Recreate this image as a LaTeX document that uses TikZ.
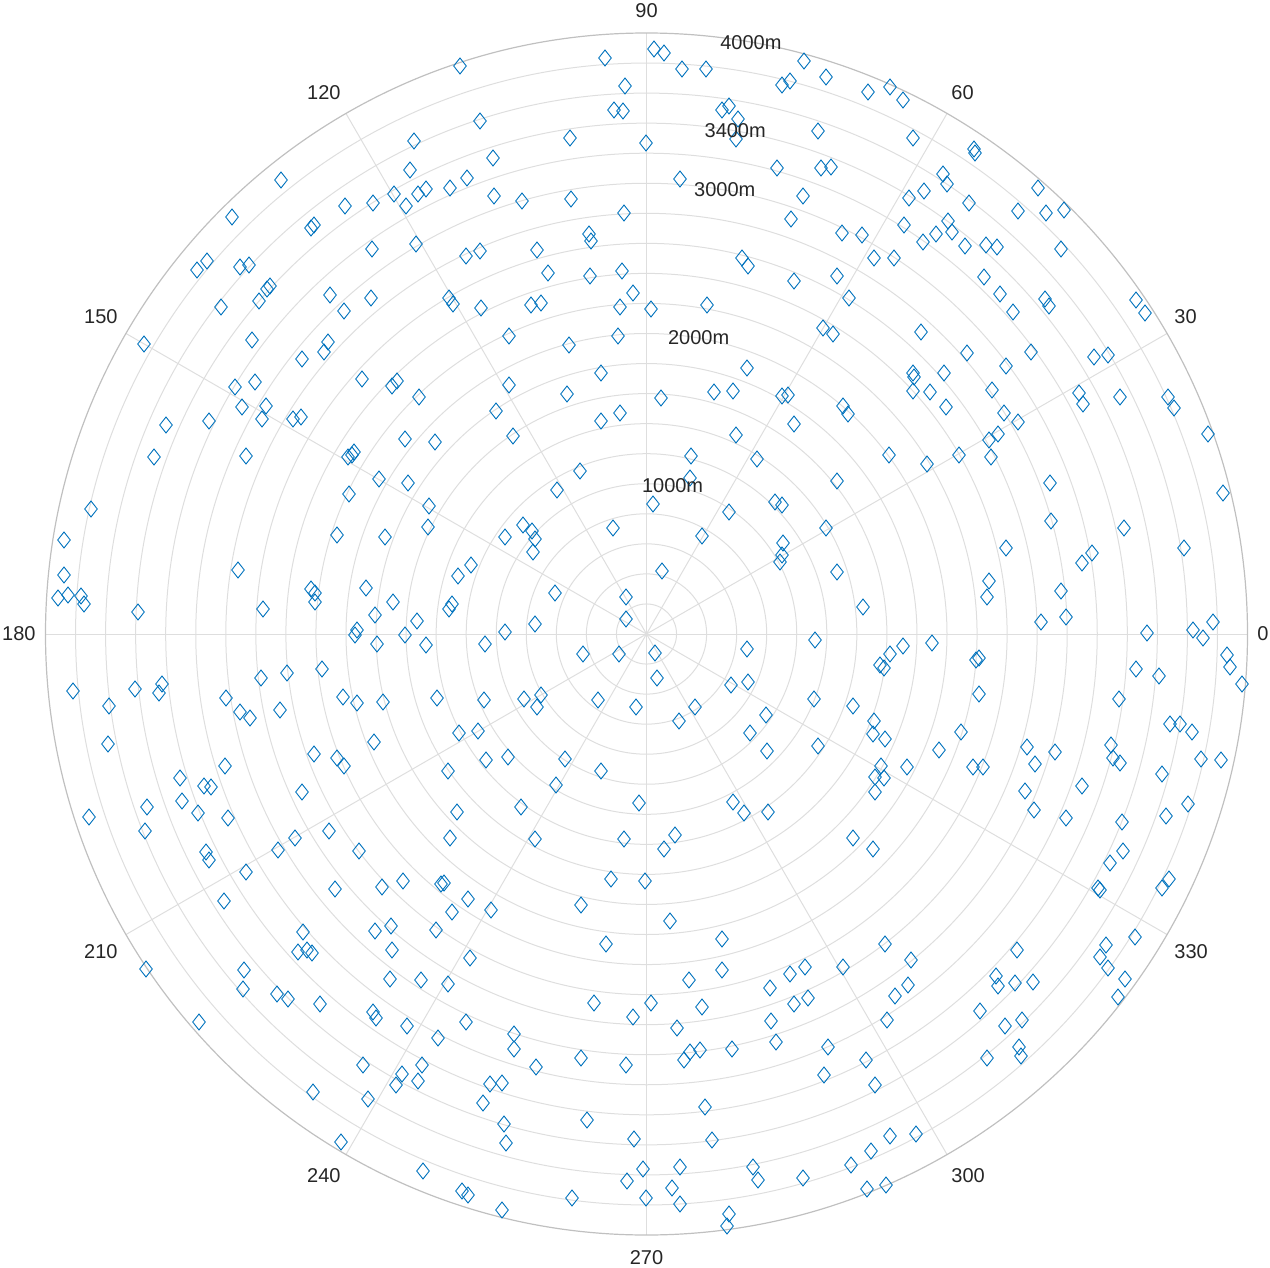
\documentclass[tikz,border=0pt]{standalone}
\usepackage{fontspec}
\setmainfont{Liberation Sans}
\definecolor{gridc}{RGB}{222,222,222}
\definecolor{axc}{RGB}{192,192,192}
\definecolor{mk}{RGB}{0,114,189}
\definecolor{txt}{RGB}{38,38,38}
\begin{document}
\begin{tikzpicture}[x=0.5pt,y=-0.5pt,
  gridline/.style={draw=gridc,line width=0.5pt},
  axline/.style={draw=axc,line width=0.6pt},
  lbl/.style={text=txt,font=\fontsize{10pt}{12pt}\selectfont,inner sep=0pt},
  mkline/.style={draw=mk,line width=0.45pt,line join=miter}]
\useasboundingbox (0,0) rectangle (1270,1268);
\coordinate (O) at (646.5,634);
% grid circles
\foreach \k in {1,...,19} \draw[gridline] (O) circle[radius=\k*30.05];
% spokes
\foreach \a in {0,30,...,330} \draw[gridline] (O) -- ++(-\a:601);
% outer circle
\draw[axline] (O) circle[radius=601];
% markers
\foreach \x/\y in {414/141, 410/170, 281/180, 394/194, 418/194, 345/206, 373/203, 406/206, 232/217, 311/228, 314/225, 416/244, 372/249, 207/261, 197/270, 240/267, 249/265, 270/286, 267/289, 259/301, 221/307, 330/295, 371/298, 344/311, 144/344, 252/340, 328/342, 324/352, 302/359, 362/379, 392/386, 397/381, 235/387, 255/382, 419/397,
460/66, 605/58, 654/49, 664/53, 682/69, 706/69, 804/61, 826/77, 782/85, 790/81, 625/86, 614/110, 623/111, 722/110, 729/106, 738/119, 736/139, 818/131, 480/121, 570/138, 646/143, 493/158, 426/189, 450/188, 467/178, 494/196, 522/201, 571/199, 680/179, 777/168, 821/168, 831/167, 803/196, 624/213, 791/219, 842/233, 589/234, 591/241, 466/256, 480/251, 537/250, 548/273, 590/276, 622/271, 742/258, 748/266, 794/281, 837/276, 449/298, 453/304, 481/308, 531/305, 541/303, 633/293, 620/307, 651/309, 707/305, 509/336, 569/345, 618/336, 823/328, 833/334, 747/368, 601/373, 509/385, 567/394, 661/398, 714/392, 733/391, 782/396, 788/395,
868/92, 890/87, 903/100, 913/138, 974/149, 975/153, 943/174, 947/184, 909/198, 924/191, 969/203, 1038/188, 1018/211, 1046/213, 1064/210, 904/225, 948/221, 952/232, 936/234, 923/242, 965/246, 986/245, 997/247, 1061/249, 862/235, 874/258, 894/258, 984/277, 1000/294, 1013/312, 1045/299, 1049/306, 1136/300, 1145/313, 849/298, 921/332, 967/353, 1006/366, 1031/352, 1094/357, 1108/355, 913/373, 914/377, 944/373, 913/391, 930/392, 992/390, 1079/393, 1083/404, 1120/397, 1168/397, 1174/408,
242/407, 266/406, 262/419, 209/421, 166/425, 293/419, 301/417, 405/439, 348/457, 352/455, 354/452, 246/456, 154/457, 379/479, 408/483, 349/494, 91/509, 337/535, 385/537, 64/540, 238/570, 64/575, 366/588, 311/589, 315/593, 315/602, 393/602, 58/598, 68/595, 81/596, 84/604, 138/612, 263/609, 375/615, 417/621, 357/630, 355/635, 405/635, 377/644, 322/669, 261/678, 287/673, 73/691, 135/689, 162/684, 159/693, 109/706, 226/698, 240/712, 250/718, 280/710, 343/697, 357/703, 383/702, 108/744, 374/742, 314/754, 337/758, 344/766, 225/766, 180/778, 204/786, 211/787, 302/792, 182/801, 147/807, 198/813,
496/411, 601/421, 620/413, 843/406, 848/414, 435/442, 513/436, 736/435, 794/424, 691/456, 757/459, 580/471, 557/490, 837/481, 690/478, 653/504, 729/512, 775/502, 782/505, 429/506, 428/527, 523/525, 532/531, 535/539, 505/537, 533/552, 613/528, 702/536, 826/528, 783/543, 782/555, 780/562, 471/565, 458/576, 662/571, 837/572, 555/593, 626/597, 452/604, 449/609, 626/619, 535/624, 505/632, 426/645, 485/644, 815/640, 583/654, 619/654, 655/653, 747/649, 657/678, 731/685, 748/682, 437/698, 484/700, 524/699, 541/695, 537/707, 598/700, 636/707, 695/707, 679/721, 814/699, 766/715, 750/733, 818/746, 767/751, 459/733, 478/731, 486/760, 508/757, 565/759, 448/771, 601/771, 556/785, 639/803, 733/802, 744/813, 768/812, 457/812, 521/807,
946/407, 1004/413, 1018/422, 1208/434, 889/455, 927/464, 959/455, 989/440, 998/434, 991/457, 1050/483, 1223/493, 1051/521, 1124/528, 1006/548, 1184/548, 1082/563, 1092/553, 989/581, 987/597, 1061/591, 863/607, 1041/622, 1066/617, 1147/633, 1193/630, 1203/638, 1213/622, 903/646, 932/643, 890/654, 880/665, 884/668, 976/660, 979/658, 1227/655, 1230/667, 1242/684, 1136/669, 1159/676, 979/694, 1119/699, 853/706, 874/721, 873/734, 885/739, 961/732, 939/750, 1170/724, 1180/724, 1192/732, 1027/747, 1035/764, 1055/752, 1111/745, 1113/758, 1120/763, 1201/759, 1221/760, 907/767, 881/766, 875/777, 884/778, 875/792, 973/767, 983/767, 1162/774, 1025/791, 1082/786, 1034/810, 1188/804,
89/817, 228/818, 145/831, 206/852, 209/860, 278/850, 295/838, 329/831, 359/851, 246/872, 224/901, 335/889, 382/887, 403/881, 303/932, 375/931, 391/926, 298/952, 307/950, 312/953, 392/950, 146/969, 244/970, 243/989, 277/994, 288/999, 320/1004, 373/1012, 376/1018, 390/979, 421/980, 407/1026, 199/1022, 363/1065, 422/1065, 402/1074, 396/1085, 418/1081, 313/1092, 368/1099, 341/1142, 423/1171,
450/838, 535/839, 624/839, 675/835, 664/849, 611/879, 645/881, 441/884, 444/883, 468/899, 452/912, 491/910, 436/930, 581/905, 670/921, 722/939, 606/944, 470/958, 722/970, 689/980, 790/974, 805/967, 843/967, 770/988, 448/984, 594/1003, 651/1003, 633/1017, 702/1007, 794/1004, 808/998, 771/1021, 466/1022, 438/1038, 514/1034, 514/1049, 677/1028, 776/1042, 828/1047, 581/1058, 626/1065, 690/1052, 684/1060, 700/1050, 732/1049, 536/1067, 824/1075, 490/1084, 502/1083, 483/1103, 705/1107, 587/1120, 504/1124, 506/1143, 634/1139, 712/1140, 643/1169, 680/1167, 753/1167, 758/1180, 803/1178, 627/1181, 672/1188, 462/1191, 468/1195, 572/1198, 646/1198, 680/1204, 502/1210, 729/1214, 727/1226,
1066/818, 1122/822, 1166/816, 853/838, 873/849, 1123/851, 1110/863, 1098/888, 1100/890, 1169/879, 1162/888, 885/944, 1135/937, 1106/945, 911/960, 1100/957, 1108/968, 1017/950, 996/976, 998/986, 1015/983, 1033/982, 1125/979, 1118/997, 908/985, 895/996, 887/1020, 980/1011, 1005/1026, 1022/1020, 1019/1047, 1021/1056, 987/1058, 866/1060, 875/1085, 890/1136, 916/1134, 871/1151, 851/1165, 867/1189, 886/1185}
  \draw[mkline] (\x-6.3,\y) -- (\x,\y-8) -- (\x+6.3,\y) -- (\x,\y+8) -- cycle;
% angle labels
\foreach \a/\an/\x/\y in {0/west/1257/634, 30/west/1174/317, 60/west/951/93, 90/center/646.5/11,
  120/east/341/93, 150/east/118/317, 180/east/36/634, 210/east/118/952,
  240/east/341/1176, 270/center/646.5/1257.5, 300/west/951/1176, 330/west/1174/952}
  \node[lbl,anchor=\an] (t\a) at (\x,\y) {\a};
% radial labels
\foreach \r/\v in {150.25/1000, 300.5/2000, 450.75/3000, 510.85/3400, 601/4000}
  \node[lbl] (r\v) at ([shift={(-80:\r)}]O) {\v m};
\end{tikzpicture}
\end{document}
